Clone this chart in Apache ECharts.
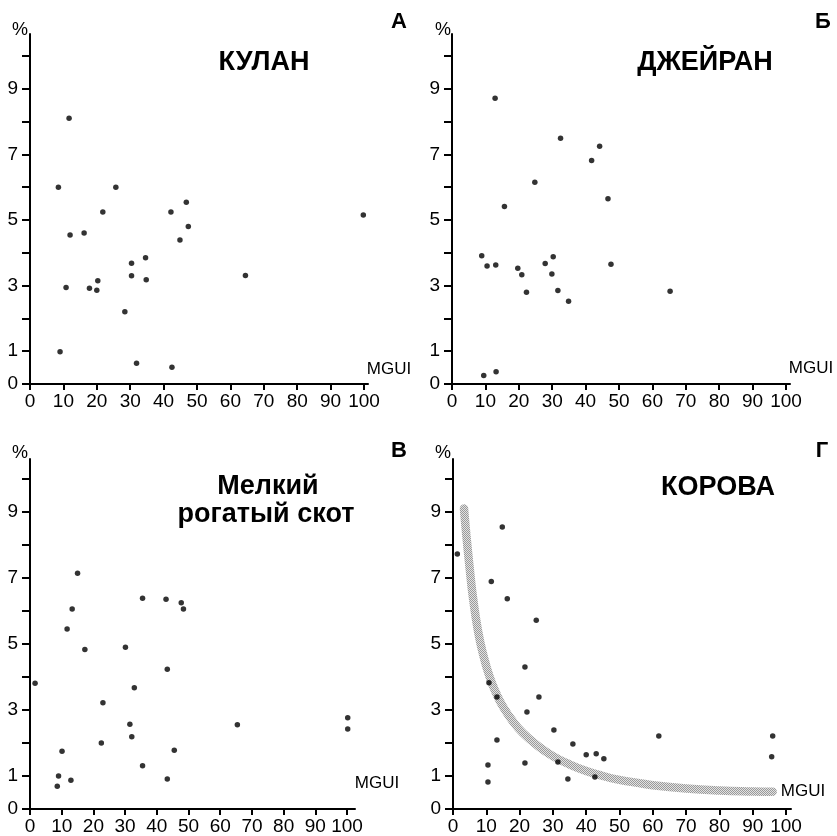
<!DOCTYPE html>
<html>
<head>
<meta charset="utf-8">
<script src="https://cdn.jsdelivr.net/npm/echarts@6/dist/echarts.min.js"></script>
<style>html,body{margin:0;padding:0;background:#fff;}#c{width:837px;height:836px;}</style>
</head>
<body>
<div id="c"></div>
<script>
// ---- data (MGUI, %) ----
const kulan = [[11.7,8.1],[8.5,6.0],[25.7,6.0],[46.8,5.54],[21.8,5.24],[42.2,5.24],[12.0,4.54],[16.2,4.6],[47.4,4.8],[44.9,4.39],[34.6,3.85],[30.4,3.68],[30.4,3.3],[34.8,3.18],[20.3,3.15],[10.8,2.94],[17.8,2.92],[20.0,2.86],[28.4,2.2],[9.0,0.98],[31.9,0.63],[42.5,0.51],[64.5,3.31],[99.8,5.15]];
const dzheiran = [[12.9,8.71],[32.5,7.49],[44.2,7.25],[41.8,6.81],[24.8,6.15],[46.7,5.65],[15.7,5.41],[8.9,3.91],[10.5,3.6],[13.1,3.63],[19.7,3.53],[20.9,3.33],[22.3,2.8],[27.9,3.67],[30.3,3.88],[29.9,3.35],[31.7,2.85],[34.9,2.52],[47.6,3.65],[9.5,0.26],[13.2,0.37],[65.3,2.83]];
const melkiy = [[15.0,7.14],[13.3,6.06],[35.5,6.38],[42.9,6.35],[47.7,6.25],[48.4,6.06],[11.7,5.45],[17.3,4.83],[30.1,4.9],[43.3,4.23],[1.6,3.81],[32.9,3.67],[23.0,3.22],[31.5,2.57],[32.1,2.19],[22.5,2.0],[10.1,1.75],[45.5,1.78],[35.5,1.31],[9.0,1.0],[12.9,0.87],[8.6,0.69],[43.3,0.91],[65.4,2.55],[100.2,2.76],[100.2,2.42]];
const korova = [[1.3,7.72],[14.8,8.54],[11.5,6.89],[16.3,6.37],[25.0,5.72],[10.8,3.82],[13.2,3.39],[13.2,2.09],[21.6,4.3],[22.2,2.94],[25.8,3.39],[30.3,2.39],[31.5,1.42],[21.6,1.39],[10.5,1.33],[10.5,0.82],[36,1.97],[34.5,0.91],[40,1.64],[43,1.67],[45.3,1.52],[42.6,0.97],[61.8,2.21],[96,2.21],[95.7,1.58]];
const curveX = [3.3,4,5,6,7.5,9,11,13,15,18,21,25,30,35,40,45,50,55,60,70,80,90,96];
const curveY = [9.1,8.3,7.3,6.4,5.4,4.7,4.0,3.5,3.1,2.65,2.3,1.95,1.6,1.35,1.15,1.0,0.88,0.8,0.72,0.62,0.56,0.53,0.52];
const xTicks = [0,10,20,30,40,50,60,70,80,90,100];
const yTicks = [0,1,2,3,4,5,6,7,8,9,10];
const yLabels = [0,1,3,5,7,9];

const FONT = '"Liberation Sans", Arial, sans-serif';
const panels = [
  {left:30, top:34, width:338, height:350, xmax:101.2, ymax:10.67, data:kulan},
  {left:452, top:34, width:338, height:350, xmax:101.2, ymax:10.67, data:dzheiran},
  {left:30, top:459, width:325, height:350, xmax:102.5, ymax:10.6, data:melkiy},
  {left:453, top:459, width:338, height:350, xmax:101.5, ymax:10.6, data:korova}
];

// hatched pattern for the trend band
const pc = document.createElement('canvas');
pc.width = 2; pc.height = 2;
const pctx = pc.getContext('2d');
pctx.fillStyle = '#e2e2e2'; pctx.fillRect(0,0,2,2);
pctx.fillStyle = '#9a9a9a'; pctx.fillRect(0,0,1,1); pctx.fillRect(1,1,1,1);

const axisLineStyle = {color:'#000', width:2};
const grids = [], xAxes = [], yAxes = [], series = [];
panels.forEach((p, i) => {
  grids.push({left:p.left, top:p.top, width:p.width, height:p.height, containLabel:false});
  xAxes.push({
    gridIndex:i, type:'value', min:0, max:p.xmax,
    axisLine:{show:true, onZero:false, lineStyle:axisLineStyle},
    axisTick:{show:true, customValues:xTicks, length:6, lineStyle:axisLineStyle},
    axisLabel:{customValues:xTicks, color:'#000', fontSize:19, fontFamily:FONT, margin:8},
    splitLine:{show:false}
  });
  yAxes.push({
    gridIndex:i, type:'value', min:0, max:p.ymax,
    axisLine:{show:true, onZero:false, lineStyle:axisLineStyle},
    axisTick:{show:true, customValues:yTicks, length:8, lineStyle:axisLineStyle},
    axisLabel:{customValues:yLabels, color:'#000', fontSize:19, fontFamily:FONT, margin:12},
    splitLine:{show:false}
  });
});

series.push({
  type:'line', xAxisIndex:3, yAxisIndex:3, z:1,
  data: curveX.map((x, k) => [x, curveY[k]]),
  smooth:true, showSymbol:false, symbol:'none',
  lineStyle:{width:8.5, color:{image:pc, repeat:'repeat'}, cap:'round'},
  silent:true
});
panels.forEach((p, i) => {
  series.push({
    type:'scatter', xAxisIndex:i, yAxisIndex:i, z:3,
    data:p.data, symbol:'circle', symbolSize:5.5,
    itemStyle:{color:'#000'}, silent:true
  });
});

function txt(text, x, y, size, bold, align) {
  const font = (bold ? 'bold ' : '') + size + 'px ' + FONT;
  return {type:'text', x:x, y:y, z:10, silent:true,
    style:{text:text, fill:'#000', font:font,
      align:align||'center', verticalAlign:'middle',
      textAlign:align||'center', textVerticalAlign:'middle'}};
}

const graphics = [
  txt('%', 20, 30, 18, false),
  txt('%', 443, 30, 18, false),
  txt('%', 20, 453, 18, false),
  txt('%', 443, 453, 18, false),
  txt('MGUI', 389, 369, 17, false),
  txt('MGUI', 811, 368, 17, false),
  txt('MGUI', 377, 783, 17, false),
  txt('MGUI', 803, 791, 17, false),
  txt('А', 399, 22, 22, true),
  txt('Б', 823, 22, 22, true),
  txt('В', 399, 451, 22, true),
  txt('Г', 822, 451, 22, true),
  txt('КУЛАН', 264, 63, 27, true),
  txt('ДЖЕЙРАН', 705, 63, 27, true),
  txt('Мелкий', 268, 487, 27, true),
  txt('рогатый скот', 266, 515, 27, true),
  txt('КОРОВА', 718, 488, 27, true)
];

const chart = echarts.init(document.getElementById('c'), null, {renderer:'canvas'});
chart.setOption({
  animation:false,
  backgroundColor:'#fff',
  grid:grids, xAxis:xAxes, yAxis:yAxes, series:series,
  graphic:graphics
});
</script>
</body>
</html>
